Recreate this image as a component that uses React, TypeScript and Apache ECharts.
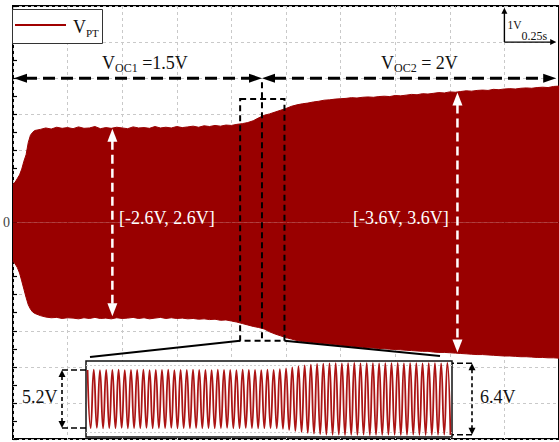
import React, { useEffect, useRef } from "react";
import * as echarts from "echarts";

// ---------------------------------------------------------------------------
// Data
// ---------------------------------------------------------------------------

// Envelope of V_PT: [time (s), upper bound (V)]
const envUpper: [number, number][] = [
  [0, 1.06], [0.01, 1.12], [0.02, 1.22], [0.03, 1.32], [0.04, 1.48], [0.05, 1.7],
  [0.06, 1.88], [0.07, 2.22], [0.08, 2.42], [0.09, 2.5], [0.1, 2.55],
  [0.125, 2.58], [0.15, 2.62], [0.175, 2.59], [0.2, 2.64], [0.225, 2.61], [0.25, 2.63],
  [0.275, 2.6], [0.3, 2.65], [0.325, 2.61], [0.35, 2.62], [0.375, 2.66], [0.4, 2.6],
  [0.425, 2.63], [0.45, 2.61], [0.475, 2.64], [0.5, 2.62], [0.525, 2.6], [0.55, 2.65],
  [0.575, 2.62], [0.6, 2.63], [0.625, 2.61], [0.65, 2.66], [0.675, 2.62], [0.7, 2.64],
  [0.725, 2.62], [0.75, 2.66], [0.775, 2.63], [0.8, 2.65], [0.825, 2.67], [0.85, 2.64],
  [0.875, 2.68], [0.9, 2.66], [0.925, 2.69], [0.95, 2.67], [0.975, 2.7], [1.0, 2.69],
  [1.025, 2.72], [1.05, 2.74], [1.075, 2.77], [1.1, 2.82], [1.125, 2.9], [1.15, 2.97],
  [1.175, 3.01], [1.2, 3.06], [1.225, 3.11], [1.25, 3.16], [1.275, 3.22], [1.3, 3.26],
  [1.325, 3.29], [1.35, 3.31], [1.375, 3.34], [1.4, 3.36], [1.425, 3.39], [1.45, 3.4],
  [1.475, 3.42], [1.5, 3.43], [1.525, 3.44], [1.55, 3.46], [1.575, 3.45], [1.6, 3.47],
  [1.625, 3.48], [1.65, 3.47], [1.675, 3.49], [1.7, 3.5], [1.725, 3.49], [1.75, 3.52],
  [1.775, 3.51], [1.8, 3.53], [1.825, 3.55], [1.85, 3.54], [1.875, 3.57], [1.9, 3.56],
  [1.925, 3.58], [1.95, 3.6], [1.975, 3.59], [2.0, 3.62], [2.025, 3.61], [2.05, 3.63],
  [2.075, 3.65], [2.1, 3.64], [2.125, 3.66], [2.15, 3.67], [2.175, 3.66], [2.2, 3.69],
  [2.225, 3.68], [2.25, 3.7], [2.275, 3.71], [2.3, 3.7], [2.325, 3.72], [2.35, 3.73],
  [2.375, 3.72], [2.4, 3.74], [2.425, 3.75], [2.45, 3.74], [2.475, 3.77], [2.5, 3.78],
];

// Envelope of V_PT: [time (s), lower bound (V)]
const envLower: [number, number][] = [
  [0, -1.07], [0.01, -1.15], [0.02, -1.25], [0.03, -1.4], [0.04, -1.62], [0.05, -1.85],
  [0.06, -2.08], [0.07, -2.28], [0.08, -2.4], [0.09, -2.48], [0.1, -2.52],
  [0.125, -2.58], [0.15, -2.62], [0.175, -2.64], [0.2, -2.63], [0.225, -2.66], [0.25, -2.64],
  [0.275, -2.65], [0.3, -2.67], [0.325, -2.64], [0.35, -2.66], [0.375, -2.63], [0.4, -2.66],
  [0.425, -2.65], [0.45, -2.67], [0.475, -2.64], [0.5, -2.66], [0.525, -2.65], [0.55, -2.63],
  [0.575, -2.66], [0.6, -2.64], [0.625, -2.67], [0.65, -2.65], [0.675, -2.63], [0.7, -2.66],
  [0.725, -2.64], [0.75, -2.66], [0.775, -2.65], [0.8, -2.67], [0.825, -2.66], [0.85, -2.68],
  [0.875, -2.67], [0.9, -2.69], [0.925, -2.68], [0.95, -2.71], [0.975, -2.7], [1.0, -2.73],
  [1.025, -2.76], [1.05, -2.8], [1.075, -2.84], [1.1, -2.88], [1.125, -2.91], [1.15, -2.95],
  [1.175, -3.03], [1.2, -3.09], [1.225, -3.14], [1.25, -3.19], [1.275, -3.23], [1.3, -3.27],
  [1.325, -3.3], [1.35, -3.31], [1.375, -3.33], [1.4, -3.34], [1.425, -3.36], [1.45, -3.37],
  [1.475, -3.39], [1.5, -3.4], [1.525, -3.42], [1.55, -3.43], [1.575, -3.44], [1.6, -3.46],
  [1.625, -3.47], [1.65, -3.48], [1.675, -3.49], [1.7, -3.5], [1.725, -3.51], [1.75, -3.52],
  [1.775, -3.53], [1.8, -3.54], [1.825, -3.55], [1.85, -3.56], [1.875, -3.57], [1.9, -3.57],
  [1.925, -3.59], [1.95, -3.6], [1.975, -3.6], [2.0, -3.61], [2.025, -3.62], [2.05, -3.63],
  [2.075, -3.64], [2.1, -3.65], [2.125, -3.66], [2.15, -3.66], [2.175, -3.67], [2.2, -3.68],
  [2.225, -3.69], [2.25, -3.7], [2.275, -3.7], [2.3, -3.71], [2.325, -3.72], [2.35, -3.72],
  [2.375, -3.73], [2.4, -3.74], [2.425, -3.74], [2.45, -3.75], [2.475, -3.75], [2.5, -3.76],
];

// Zoomed window around the V_OC step: positive peak of each cycle (V)
const zoomPeaks: number[] = [
  2.6, 2.62, 2.58, 2.61, 2.6, 2.63, 2.59, 2.61, 2.6, 2.62, 2.58, 2.61, 2.6, 2.62, 2.59, 2.61,
  2.6, 2.63, 2.6, 2.61, 2.59, 2.62, 2.6, 2.61, 2.58, 2.62, 2.6, 2.61, 2.59, 2.62, 2.61,
  2.66, 2.74, 2.83, 2.92, 3.0, 3.07, 3.13, 3.17,
  3.19, 3.21, 3.18, 3.2, 3.22, 3.19, 3.21, 3.2, 3.18, 3.21, 3.2, 3.22, 3.19, 3.2, 3.21,
  3.18, 3.2, 3.21, 3.19, 3.22,
];

// Zoomed window: negative peak of each cycle (V)
const zoomTroughs: number[] = [
  -2.61, -2.59, -2.62, -2.6, -2.61, -2.58, -2.62, -2.6, -2.61, -2.59, -2.62, -2.6, -2.61,
  -2.58, -2.62, -2.6, -2.61, -2.59, -2.62, -2.6, -2.61, -2.6, -2.58, -2.62, -2.61, -2.59,
  -2.6, -2.62, -2.61, -2.6, -2.62,
  -2.68, -2.77, -2.86, -2.95, -3.03, -3.1, -3.15, -3.18,
  -3.2, -3.19, -3.22, -3.2, -3.21, -3.19, -3.22, -3.2, -3.21, -3.19, -3.2, -3.22, -3.21,
  -3.19, -3.2, -3.22, -3.21, -3.2, -3.19, -3.21,
];

// Axis settings
const X_MIN = 0;
const X_MAX = 2.5;
const X_STEP = 0.25; // s per division
const Y_MIN = -6;
const Y_MAX = 6;
const Y_STEP = 1; // V per division
const Y_LABELED = [0];

// Annotation levels (data units)
const BUS_V = 4; // height of the V_OC arrow row
const STEP_T = 1.14; // V_OC change instant
const BUS_END_T = 2.487;
const ZOOM_T0 = 1.04;
const ZOOM_T1 = 1.243;
const ZOOM_V_TOP = 3.42;
const ZOOM_V_BOT = -3.28;
const RANGE1 = { t: 0.455, v: 2.6, label: "[-2.6V, 2.6V]" };
const RANGE2 = { t: 2.035, v: 3.6, label: "[-3.6V, 3.6V]" };
const ZOOM_AMP1 = { v: 2.6, label: "5.2V" };
const ZOOM_AMP2 = { v: 3.2, label: "6.4V" };

const FONT = "'Liberation Serif', 'Times New Roman', serif";
const RED = "#990000";
const WAVE_RED = "#ab1414";

export default function App() {
  const ref = useRef<HTMLDivElement>(null);

  useEffect(() => {
    document.body.style.margin = "0";
    const chart = echarts.init(ref.current!, null, { renderer: "svg" });

    const zoomWave: [number, number][] = [];
    zoomPeaks.forEach((p, i) => {
      zoomWave.push([i + 0.25, p]);
      zoomWave.push([i + 0.75, zoomTroughs[i]]);
    });

    const gridLine = { show: true, lineStyle: { color: "#c9c9c9", type: [3, 3], width: 1 } };

    chart.setOption({
      animation: false,
      backgroundColor: "#ffffff",
      grid: [
        {
          left: 7, top: 6, right: -3, bottom: 3,
          show: true, borderColor: "#000", borderWidth: 2, backgroundColor: "transparent",
        },
        {
          left: 86, top: 361, width: 366, height: 76, z: 3,
          show: true, borderColor: "#111", borderWidth: 1.5, backgroundColor: "#ffffff",
        },
      ],
      xAxis: [
        {
          gridIndex: 0, type: "value", min: X_MIN, max: X_MAX, interval: X_STEP,
          axisLine: { show: false },
          axisTick: { show: true, inside: true, length: 4, lineStyle: { color: "#000", width: 1.2 } },
          axisLabel: { show: false },
          splitLine: gridLine,
        },
        { gridIndex: 1, type: "value", min: 0, max: zoomPeaks.length, show: false },
      ],
      yAxis: [
        {
          gridIndex: 0, type: "value", min: Y_MIN, max: Y_MAX, interval: Y_STEP,
          axisLine: { show: false },
          axisTick: { show: true, inside: true, length: 4, lineStyle: { color: "#000", width: 1.2 } },
          minorTick: { show: true, splitNumber: 2, length: 4, lineStyle: { color: "#000", width: 1.2 } },
          axisLabel: {
            show: true, margin: 3, color: "#444", fontFamily: FONT, fontSize: 14,
            formatter: (v: number) => (Y_LABELED.includes(v) ? String(v) : ""),
          },
          splitLine: gridLine,
        },
        { gridIndex: 1, type: "value", min: -3.4, max: 3.4, show: false },
      ],
      series: [
        {
          name: "V_PT", type: "line", xAxisIndex: 0, yAxisIndex: 0, data: envUpper,
          symbol: "none", lineStyle: { color: RED, width: 1 },
          areaStyle: { color: RED, opacity: 1, origin: "auto" }, z: 2,
        },
        {
          name: "V_PT", type: "line", xAxisIndex: 0, yAxisIndex: 0, data: envLower,
          symbol: "none", lineStyle: { color: RED, width: 1 },
          areaStyle: { color: RED, opacity: 1, origin: "auto" }, z: 2,
        },
        {
          name: "zoom-grid", type: "line", xAxisIndex: 1, yAxisIndex: 1, data: [], z: 4,
          markLine: {
            silent: true, symbol: "none", label: { show: false },
            lineStyle: { color: "#d0d0d0", type: [2, 2], width: 1 },
            data: [{ yAxis: 3 }, { yAxis: -3 }],
          },
        },
        {
          name: "V_PT zoom", type: "line", xAxisIndex: 1, yAxisIndex: 1, data: zoomWave,
          smooth: 0.5, symbol: "none", lineStyle: { color: WAVE_RED, width: 1.8 }, z: 5,
        },
      ],
    });

    // ---- annotations, positioned through the axes ----
    const px = (t: number, v: number) => chart.convertToPixel({ gridIndex: 0 }, [t, v]) as number[];
    const qx = (i: number, v: number) => chart.convertToPixel({ gridIndex: 1 }, [i, v]) as number[];

    const ctx = document.createElement("canvas").getContext("2d")!;
    const measure = (s: string, size: number) => {
      ctx.font = `${size}px ${FONT}`;
      return ctx.measureText(s).width;
    };

    const els: any[] = [];
    const Z = 60;

    const tri = (x: number, y: number, dir: "l" | "r" | "u" | "d", len: number, half: number, fill: string) => {
      let pts: number[][];
      if (dir === "l") pts = [[x, y], [x + len, y - half], [x + len, y + half]];
      else if (dir === "r") pts = [[x, y], [x - len, y - half], [x - len, y + half]];
      else if (dir === "u") pts = [[x, y], [x - half, y + len], [x + half, y + len]];
      else pts = [[x, y], [x - half, y - len], [x + half, y - len]];
      els.push({ type: "polygon", shape: { points: pts }, style: { fill }, z: Z + 1 });
    };
    const seg = (x1: number, y1: number, x2: number, y2: number, stroke: string, w: number, dash?: number[]) => {
      els.push({
        type: "line", shape: { x1, y1, x2, y2 },
        style: { stroke, lineWidth: w, lineDash: dash || null, fill: null }, z: Z,
      });
    };
    const label = (x: number, baseline: number, parts: [string, number, number][], fill: string) => {
      let cx = x;
      for (const [t, size, shift] of parts) {
        els.push({
          type: "text", x: cx, y: baseline + shift - 0.34 * size, z: Z + 2,
          style: {
            text: t, font: `${size}px ${FONT}`, fill,
            textAlign: "left", textVerticalAlign: "middle", align: "left", verticalAlign: "middle",
          },
        });
        cx += measure(t, size);
      }
      return cx;
    };

    // V_OC arrow row
    const [xL, yBus] = px(X_MIN, BUS_V);
    const [xM] = px(STEP_T, BUS_V);
    const [xR] = px(BUS_END_T, BUS_V);
    const AH = 13;
    seg(xL + AH - 1, yBus, xM - AH + 1, yBus, "#000", 3, [12, 6]);
    seg(xM + AH - 1, yBus, xR - AH + 1, yBus, "#000", 3, [12, 6]);
    tri(xL + 1, yBus, "l", AH, 4.5, "#000");
    tri(xM, yBus, "r", AH, 4.5, "#000");
    tri(xM, yBus, "l", AH, 4.5, "#000");
    tri(xR, yBus, "r", AH, 4.5, "#000");

    // zoom window
    const [bx0, by0] = px(ZOOM_T0, ZOOM_V_TOP);
    const [bx1, by1] = px(ZOOM_T1, ZOOM_V_BOT);
    seg(xM, yBus + 4, xM, by1, "#000", 2, [6, 4]);
    els.push({
      type: "rect", shape: { x: bx0, y: by0, width: bx1 - bx0, height: by1 - by0 },
      style: { stroke: "#000", lineWidth: 2, lineDash: [6, 4], fill: null }, z: Z,
    });
    const [ix0, iy0] = qx(0, 3.4);
    const [ix1] = qx(zoomPeaks.length, 3.4);
    seg(bx0, by1, ix0 + 4, iy0 - 4, "#000", 2);
    seg(bx1, by1, ix1 - 12, iy0 - 5, "#000", 2);

    // amplitude ranges (white)
    for (const r of [RANGE1, RANGE2]) {
      const [ax, ay0] = px(r.t, r.v);
      const [, ay1] = px(r.t, -r.v);
      seg(ax, ay0 + 12, ax, ay1 - 12, "#fff", 2.5, [9, 5]);
      tri(ax, ay0, "u", 13, 5, "#fff");
      tri(ax, ay1, "d", 13, 5, "#fff");
    }
    label(119, 224, [[RANGE1.label, 18, 0]], "#fff");
    label(353, 224, [[RANGE2.label, 18, 0]], "#fff");

    // V_OC labels
    const a = label(102, 69.5, [["V", 18, 0], ["OC1", 12, 2.5]], "#111");
    label(a, 69.5, [[" =1.5V", 18, 0]], "#111");
    const b = label(381, 69.5, [["V", 18, 0], ["OC2", 12, 2.5]], "#111");
    label(b, 69.5, [[" = 2V", 18, 0]], "#111");

    // peak-to-peak dimensions of the zoomed wave
    const dims = [
      { amp: ZOOM_AMP1, xEdge: ix0, xDim: ix0 - 24, tx: 22 },
      { amp: ZOOM_AMP2, xEdge: ix1, xDim: ix1 + 20, tx: 480 },
    ];
    for (const d of dims) {
      const [, yTop] = qx(0, d.amp.v);
      const [, yBot] = qx(0, -d.amp.v);
      seg(d.xDim, yTop, d.xEdge, yTop, "#000", 1.6, [6, 3]);
      seg(d.xDim, yBot, d.xEdge, yBot, "#000", 1.6, [6, 3]);
      seg(d.xDim, yTop + 6, d.xDim, yBot - 6, "#000", 1.6, [4, 3]);
      tri(d.xDim, yTop, "u", 7, 3.5, "#000");
      tri(d.xDim, yBot, "d", 7, 3.5, "#000");
      label(d.tx, 403, [[d.amp.label, 18, 0]], "#111");
    }

    // scale marker: 1 division = 1 V, 0.25 s
    const [sx, sy0] = px(X_MAX - X_STEP, Y_MAX - 0.05);
    const [, sy1] = px(X_MAX - X_STEP, Y_MAX - Y_STEP);
    const [sx1] = px(BUS_END_T, Y_MAX - Y_STEP);
    seg(sx, sy0 + 5, sx, sy1, "#000", 1.4);
    seg(sx, sy1, sx1 - 5, sy1, "#000", 1.4);
    tri(sx, sy0, "u", 6, 3, "#000");
    tri(sx1, sy1, "r", 6, 3, "#000");
    label(sx + 3, 29, [["1V", 11.5, 0]], "#111");
    label(sx + 17, 40, [["0.25s", 12, 0]], "#111");

    // legend
    els.push({
      type: "rect", shape: { x: 12.5, y: 9.5, width: 90, height: 34 },
      style: { stroke: "#333", lineWidth: 1, fill: "#fff" }, z: Z,
    });
    seg(15, 25, 66, 25, "#a00000", 2);
    label(73, 33, [["V", 18, 0], ["PT", 11, 4]], "#111");

    chart.setOption({ graphic: { elements: els } });

    return () => chart.dispose();
  }, []);

  return <div ref={ref} style={{ width: 559, height: 442, overflow: "hidden" }} />;
}
